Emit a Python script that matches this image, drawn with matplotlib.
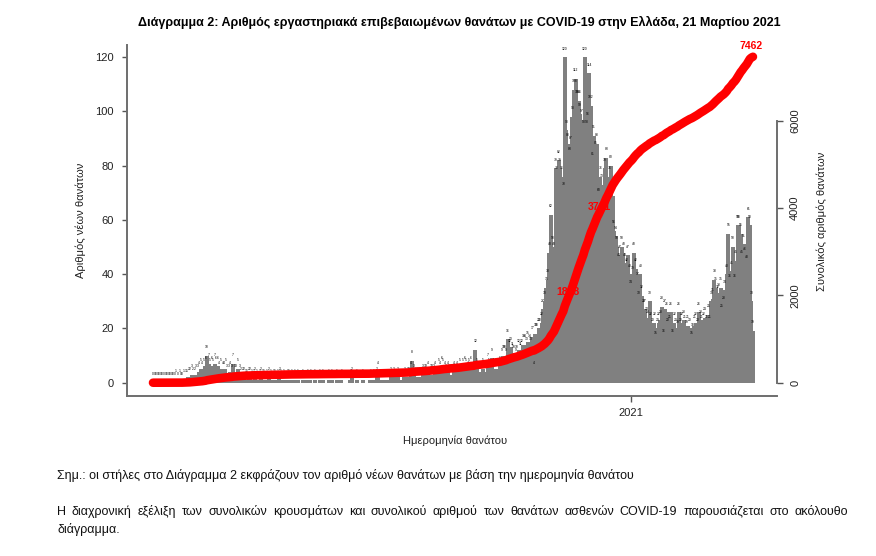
import numpy as np
import pandas as pd
import matplotlib
matplotlib.use('Agg')
import matplotlib.pyplot as plt
import matplotlib.dates as mdates

plt.rcParams['font.family'] = ['Liberation Sans', 'DejaVu Sans']

# new deaths per day (by date of death), 26 Feb 2020 - 21 Mar 2021
feb20 = [0, 0, 0, 0]
mar20 = [0, 0, 0, 0, 0, 0, 0, 0, 0, 0, 0, 1, 0, 1, 0, 0, 1, 1, 1, 2, 2,
         3, 2, 2, 3, 3, 4, 5, 4, 5, 6]
apr20 = [10, 7, 5, 6, 5, 7, 6, 6, 4, 5, 4, 4, 5, 3, 3, 4, 3, 7, 3, 3,
         5, 3, 2, 2, 2, 1, 1, 2, 2, 1]
may20 = [1, 2, 1, 0, 1, 2, 1, 1, 0, 1, 2, 1, 0, 1, 1, 0, 1, 2, 1, 0,
         1, 0, 1, 1, 0, 1, 0, 1, 0, 1, 0]
jun20 = [0, 1, 0, 0, 1, 0, 1, 0, 0, 1, 0, 0, 1, 0, 1, 0, 0, 0, 1, 0,
         1, 0, 0, 1, 0, 0, 1, 0, 0, 0]
jul20 = [0, 0, 1, 2, 0, 0, 1, 0, 0, 0, 1, 0, 0, 0, 0, 1, 0, 1, 0, 2, 4,
         1, 0, 1, 0, 0, 1, 0, 2, 1, 2]
aug20 = [1, 1, 2, 1, 0, 1, 2, 1, 2, 2, 4, 8, 3, 2, 2, 2, 1, 2, 3, 3,
         3, 4, 2, 3, 3, 3, 4, 2, 5, 4, 6]
sep20 = [5, 4, 3, 4, 3, 3, 2, 4, 3, 4, 3, 5, 3, 5, 6, 5, 4, 5, 6, 3,
         4, 12, 5, 4, 3, 4, 5, 3, 4, 7]
oct20 = [5, 4, 9, 5, 5, 4, 5, 6, 9, 10, 10, 9, 16, 12, 13, 11, 10, 9, 10, 12,
         11, 12, 14, 14, 13, 15, 14, 13, 17, 4, 18]
nov20 = [18, 20, 20, 22, 27, 30, 35, 38, 48, 62, 50, 48, 79, 76, 82, 79, 76, 70, 120, 93,
         88, 83, 87, 98, 108, 112, 104, 104, 99, 97]
dec20 = [93, 120, 93, 96, 114, 102, 81, 91, 85, 88, 68, 76, 73, 61, 79, 83, 67, 76, 80, 69,
         56, 54, 50, 44, 47, 50, 48, 44, 42, 47, 40]
jan21 = [34, 39, 48, 42, 37, 30, 40, 32, 27, 27, 24, 23, 30, 22, 20, 22, 15, 20, 22, 23,
         28, 16, 27, 26, 20, 21, 26, 16, 22, 20, 19]
feb21 = [26, 20, 22, 23, 21, 19, 21, 20, 15, 18, 21, 22, 20, 26, 23, 21, 22, 24, 21, 25,
         21, 30, 31, 38, 35, 32, 33, 35]
mar21 = [25, 28, 34, 40, 55, 36, 41, 50, 36, 45, 58, 58, 55, 45, 51, 46, 43, 61, 58, 30, 19]

deaths = np.array(feb20 + mar20 + apr20 + may20 + jun20 + jul20 + aug20 + sep20
                  + oct20 + nov20 + dec20 + jan21 + feb21 + mar21)
dates = pd.date_range('2020-02-26', periods=len(deaths), freq='D')
cumulative = np.cumsum(deaths)

# dates where the running total is written on the curve
marked_dates = ['2020-11-20', '2020-12-10']

title = ('Διάγραμμα 2: Αριθμός εργαστηριακά επιβεβαιωμένων θανάτων με COVID-19 '
         'στην Ελλάδα, 21 Μαρτίου 2021')
note1 = ('Σημ.: οι στήλες στο Διάγραμμα 2 εκφράζουν τον αριθμό νέων θανάτων '
         'με βάση την ημερομηνία θανάτου')
note2 = ('Η διαχρονική εξέλιξη των συνολικών κρουσμάτων και συνολικού αριθμού των '
         'θανάτων ασθενών COVID-19 παρουσιάζεται στο ακόλουθο')
note2b = 'διάγραμμα.'

W, H = 876, 556
fig = plt.figure(figsize=(W / 100, H / 100), dpi=100)
ax = fig.add_axes([127 / W, 1 - 396 / H, 650 / W, 351 / H])

x = mdates.date2num(dates)
ax.bar(x, deaths, width=2.6, color='#808080', linewidth=0, zorder=1)
for xi, v in zip(x, deaths):
    ax.text(xi, v + 3.2, str(v), fontsize=2.4, ha='center', va='center',
            color='black', zorder=2)

ax.set_xlim(x[0] - 16.86, x[0] + 404.6)
ax.set_ylim(-4.9, 124.5)
ax.set_yticks([0, 20, 40, 60, 80, 100, 120])
ax.set_xticks([mdates.date2num(pd.Timestamp('2021-01-01'))])
ax.set_xticklabels(['2021'])
for s in ['top', 'right']:
    ax.spines[s].set_visible(False)
for s in ['left', 'bottom']:
    ax.spines[s].set_color('#6e6e6e')
    ax.spines[s].set_linewidth(1.4)
ax.tick_params(axis='y', length=3.8, width=1, color='#555555', pad=5.5,
               labelsize=8, labelcolor='#222222')
ax.tick_params(axis='x', length=4.5, width=1, color='#555555', pad=4,
               labelsize=8, labelcolor='#222222')

ax2 = ax.twinx()
ax2.set_ylim(-4.9 * 62.1, 124.5 * 62.1)
for s in ['top', 'left', 'bottom']:
    ax2.spines[s].set_visible(False)
ax2.spines['right'].set_bounds(0, 6000)
ax2.spines['right'].set_color('#6e6e6e')
ax2.spines['right'].set_linewidth(1.4)
ax2.set_yticks([0, 2000, 4000, 6000])
ax2.tick_params(axis='y', length=4.5, width=1, color='#555555', pad=5,
                labelsize=8, labelcolor='#222222')
for lbl in ax2.get_yticklabels():
    lbl.set_rotation(90)
    lbl.set_va('center')

for d in marked_dates:
    i = dates.get_loc(pd.Timestamp(d))
    ax2.annotate(str(cumulative[i]), (x[i], cumulative[i]), xytext=(1.5, 7.5),
                 textcoords='offset points', ha='center', va='center',
                 color='red', fontsize=7.5, fontweight='bold', zorder=1)
ax2.plot(x, cumulative, color='red', lw=6.2, solid_capstyle='round',
         solid_joinstyle='round', zorder=3)
ax2.annotate(str(cumulative[-1]), (x[-1], cumulative[-1]), xytext=(-1, 8),
             textcoords='offset points', ha='center', va='center',
             color='red', fontsize=7.5, fontweight='bold', zorder=4)

# axis titles
fig.text(80.7 / W, 1 - 220 / H, 'Αριθμός νέων θανάτων', rotation=90,
         ha='center', va='center', fontsize=8, color='#222222')
fig.text(822 / W, 1 - 221 / H, 'Συνολικός αριθμός θανάτων', rotation=90,
         ha='center', va='center', fontsize=8, color='#222222')
fig.text(455 / W, 1 - 441 / H, 'Ημερομηνία θανάτου', ha='center', va='center',
         fontsize=8, color='#222222')

fig.text(459 / W, 1 - 22 / H, title, ha='center', va='center', fontsize=9,
         fontweight='bold', color='black')

fig.text(57 / W, 1 - 476 / H, note1, ha='left', va='center', fontsize=9,
         color='#111111')

# justified first line of the second note
fig.canvas.draw()
rend = fig.canvas.get_renderer()
words = note2.split()
objs = [fig.text(0, 1 - 512 / H, w, ha='left', va='center', fontsize=9,
                 color='#111111') for w in words]
widths = [o.get_window_extent(renderer=rend).width for o in objs]
gap = ((848 - 57) - sum(widths)) / (len(words) - 1)
pos = 57
for o, w in zip(objs, widths):
    o.set_x(pos / W)
    pos += w + gap
fig.text(57 / W, 1 - 529 / H, note2b, ha='left', va='center', fontsize=9,
         color='#111111')

fig.savefig('out.png', dpi=100)
